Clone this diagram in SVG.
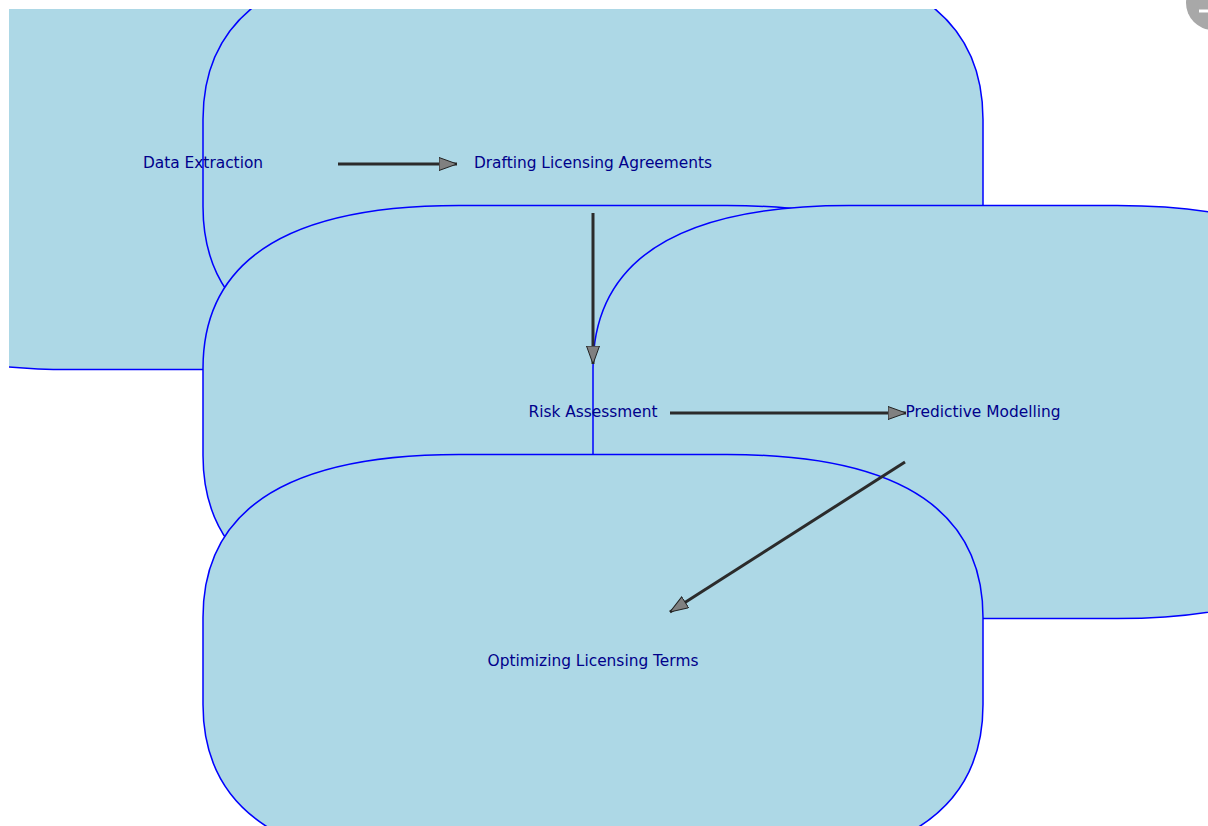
<svg xmlns="http://www.w3.org/2000/svg" width="1208" height="826" viewBox="0 0 1208 826">
  <style>
    .box { fill: #ADD8E6; stroke: #0000FF; stroke-width: 1.5; }
    .label { font-family: "DejaVu Sans", Verdana, sans-serif; font-size: 15.4px; fill: #00008B; text-anchor: middle; }
    .edge { stroke: #2b2b2b; stroke-width: 3; fill: none; marker-end: url(#head); }
  </style>
  <defs>
    <clipPath id="axes">
      <rect x="9" y="9" width="1199" height="817"/>
    </clipPath>
    <marker id="head" markerUnits="userSpaceOnUse" viewBox="0 0 19 14" markerWidth="19" markerHeight="14" refX="18.5" refY="7" orient="auto">
      <path d="M0.5,0.5 L18.5,7 L0.5,13.5 Z" fill="#808080" stroke="#222222" stroke-width="1"/>
    </marker>
  </defs>
  <rect x="0" y="0" width="1208" height="826" fill="#FFFFFF"/>
  <g clip-path="url(#axes)">
    <g id="node-data-extraction">
      <path class="box" d="M69,-43.5 H337 Q593,-43.5 593,119.5 V206.5 Q593,369.5 337,369.5 H69 Q-187,369.5 -187,206.5 V119.5 Q-187,-43.5 69,-43.5 Z"/>
    </g>
    <g id="node-drafting">
      <path class="box" d="M459,-43.5 H727 Q983,-43.5 983,119.5 V206.5 Q983,369.5 727,369.5 H459 Q203,369.5 203,206.5 V119.5 Q203,-43.5 459,-43.5 Z"/>
    </g>
    <g id="node-risk">
      <path class="box" d="M459,205.5 H727 Q983,205.5 983,368.5 V455.5 Q983,618.5 727,618.5 H459 Q203,618.5 203,455.5 V368.5 Q203,205.5 459,205.5 Z"/>
    </g>
    <g id="node-predictive">
      <path class="box" d="M849,205.5 H1117 Q1373,205.5 1373,368.5 V455.5 Q1373,618.5 1117,618.5 H849 Q593,618.5 593,455.5 V368.5 Q593,205.5 849,205.5 Z"/>
    </g>
    <g id="node-optimizing">
      <path class="box" d="M459,454.5 H727 Q983,454.5 983,617.5 V704.5 Q983,867.5 727,867.5 H459 Q203,867.5 203,704.5 V617.5 Q203,454.5 459,454.5 Z"/>
    </g>
    <g id="labels">
      <text class="label" x="203" y="168">Data Extraction</text>
      <text class="label" x="593" y="168">Drafting Licensing Agreements</text>
      <text class="label" x="593" y="417">Risk Assessment</text>
      <text class="label" x="983" y="417">Predictive Modelling</text>
      <text class="label" x="593" y="666">Optimizing Licensing Terms</text>
    </g>
    <g id="connectors">
      <path class="edge" d="M338,164 L457,164"/>
      <path class="edge" d="M593,213 L593,364"/>
      <path class="edge" d="M670,413 L906,413"/>
      <path class="edge" d="M905,462 L670,612"/>
    </g>
  </g>
  <g id="corner-badge">
    <circle cx="1213" cy="3" r="27" fill="#a8a8a8"/>
    <path d="M1199,11 L1208,11" stroke="#FFFFFF" stroke-width="3"/>
  </g>
</svg>
